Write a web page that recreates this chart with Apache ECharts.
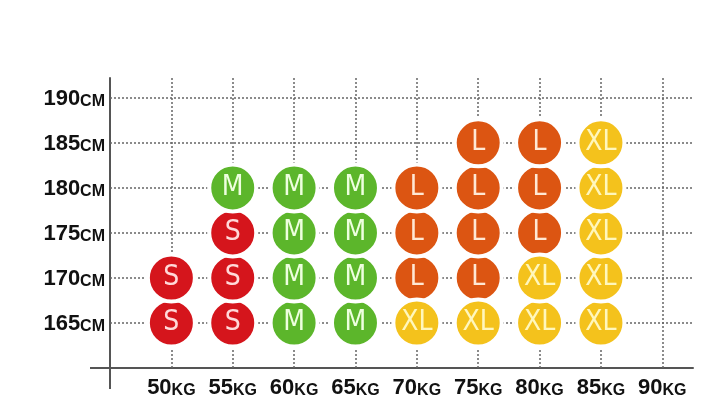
<!DOCTYPE html>
<html>
<head>
<meta charset="utf-8">
<script src="https://cdn.jsdelivr.net/npm/echarts@6/dist/echarts.min.js"></script>
<style>
  html, body { margin: 0; padding: 0; background: #fff; }
  #chart { width: 728px; height: 399px; }
</style>
</head>
<body>
<div id="chart"></div>
<script>
// weights (x ticks) and heights (y ticks)
var weights = [50, 55, 60, 65, 70, 75, 80, 85, 90];
var heights = [165, 170, 175, 180, 185, 190];

// size per weight column (50..85), one array per height row, '' = no bubble
var row165 = ['S', 'S', 'M', 'M', 'XL', 'XL', 'XL', 'XL'];
var row170 = ['S', 'S', 'M', 'M', 'L', 'L', 'XL', 'XL'];
var row175 = ['', 'S', 'M', 'M', 'L', 'L', 'L', 'XL'];
var row180 = ['', 'M', 'M', 'M', 'L', 'L', 'L', 'XL'];
var row185 = ['', '', '', '', '', 'L', 'L', 'XL'];

var sizes = ['S', 'M', 'L', 'XL'];
var fills = { S: '#d5151c', M: '#5cb62b', L: '#dc5512', XL: '#f4c21c' };
var inks = { S: '#ffd9d9', M: '#eeffdf', L: '#ffe8d4', XL: '#fff7bd' };

var rows = [[165, row165], [170, row170], [175, row175], [180, row180], [185, row185]];

function pointsFor(size) {
    var pts = [];
    rows.forEach(function(r) {
        r[1].forEach(function(s, i) {
            if (s === size) pts.push([weights[i], r[0]]);
        });
    });
    return pts;
}

var gridLine = { color: '#666', type: [2, 2], width: 1.5 };

var series = [{
    type: 'line',
    data: [],
    z: 1,
    markLine: {
        z: 1,
        silent: true,
        symbol: 'none',
        label: { show: false },
        lineStyle: gridLine,
        data: weights.map(function(w) { return { xAxis: w }; })
            .concat(heights.map(function(h) { return { yAxis: h }; }))
    }
}];

sizes.forEach(function(s) {
    series.push({
        type: 'scatter',
        name: s,
        z: 10,
        data: pointsFor(s),
        symbolSize: 47,
        itemStyle: {
            color: fills[s],
            borderColor: '#fff',
            borderWidth: 4,
            opacity: 1
        },
        label: {
            show: true,
            position: 'inside',
            formatter: s,
            color: inks[s],
            fontSize: 28,
            fontFamily: "'DejaVu Sans Condensed', 'Liberation Sans Narrow', Roboto, sans-serif"
        }
    });
});

var numStyle = { fontSize: 22, fontWeight: 'bold', color: '#111', fontFamily: 'Liberation Sans, Arial', verticalAlign: 'bottom', lineHeight: 24 };
var unitStyle = { fontSize: 16, fontWeight: 'bold', color: '#111', fontFamily: 'Liberation Sans, Arial', verticalAlign: 'bottom', lineHeight: 22 };

var chart = echarts.init(document.getElementById('chart'));

chart.setOption({
    animation: false,
    backgroundColor: '#fff',
    grid: { left: 110, right: 35, top: 78, bottom: 30 },
    xAxis: {
        type: 'value',
        min: 45,
        max: 92.5,
        interval: 5,
        splitLine: { show: false },
        axisTick: { show: false },
        axisLine: { show: true, lineStyle: { color: '#555', width: 2 } },
        axisLabel: {
            margin: 7,
            formatter: function(v) {
                return weights.indexOf(v) >= 0 ? '{n|' + v + '}{u|KG}' : '';
            },
            rich: { n: numStyle, u: unitStyle }
        }
    },
    yAxis: {
        type: 'value',
        min: 160,
        max: 192.2,
        interval: 5,
        splitLine: { show: false },
        axisTick: { show: false },
        axisLine: { show: true, lineStyle: { color: '#555', width: 2 } },
        axisLabel: {
            margin: 5,
            formatter: function(v) {
                return heights.indexOf(v) >= 0 ? '{n|' + v + '}{u|CM}' : '';
            },
            rich: { n: numStyle, u: unitStyle }
        }
    },
    series: series
});

// axis lines run a little past the corner
var corner = chart.convertToPixel({ gridIndex: 0 }, [45, 160]);
chart.setOption({
    graphic: [
        { type: 'line', shape: { x1: corner[0], y1: corner[1], x2: corner[0], y2: corner[1] + 21 }, style: { stroke: '#555', lineWidth: 2 } },
        { type: 'line', shape: { x1: corner[0] - 20, y1: corner[1], x2: corner[0], y2: corner[1] }, style: { stroke: '#555', lineWidth: 2 } }
    ]
});
</script>
</body>
</html>
